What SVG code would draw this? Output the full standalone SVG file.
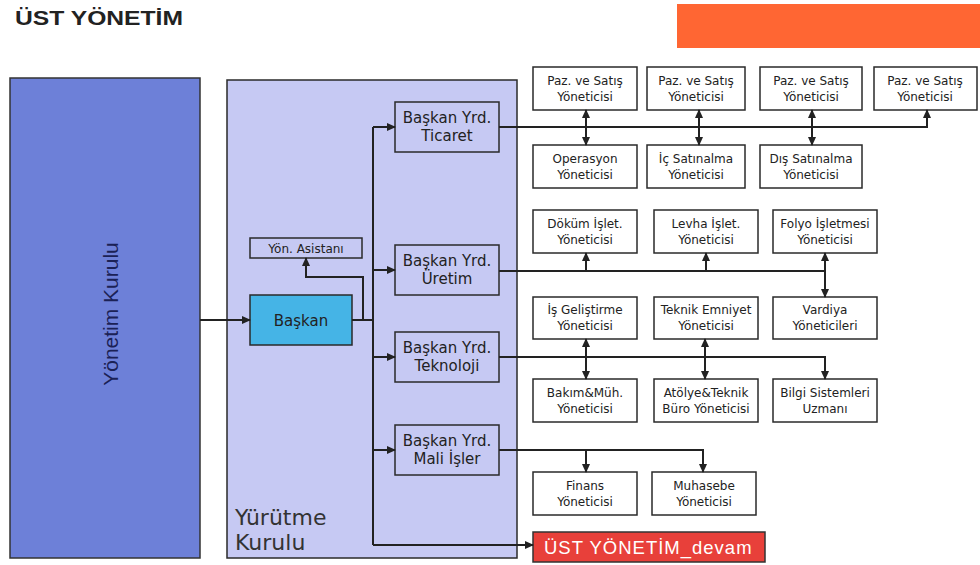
<svg xmlns="http://www.w3.org/2000/svg" width="980" height="565" viewBox="0 0 980 565">
<style>
.bx{fill:#ffffff;stroke:#2a2a2a;stroke-width:1.5}
.lv{fill:#c6c9f3;stroke:#2a2a2a;stroke-width:1.5}
.t{font-family:"DejaVu Sans",Verdana,sans-serif;font-size:12px;fill:#222;text-anchor:middle}
.tb{font-family:"DejaVu Sans",Verdana,sans-serif;font-size:15px;fill:#222;text-anchor:middle}
.c{fill:none;stroke:#222;stroke-width:2}
.a{marker-end:url(#ah)}
.d{marker-start:url(#ah);marker-end:url(#ah)}
</style>
<defs>
<marker id="ah" markerUnits="userSpaceOnUse" markerWidth="9" markerHeight="8" refX="8" refY="4" orient="auto-start-reverse">
<path d="M0,0 L9,4 L0,8 z" fill="#222"/>
</marker>
</defs>
<rect width="980" height="565" fill="#ffffff"/>
<text x="15" y="25" font-family="'Liberation Sans',Arial,sans-serif" font-size="21" font-weight="bold" fill="#222" textLength="168" lengthAdjust="spacingAndGlyphs">ÜST YÖNETİM</text>
<rect x="677" y="4" width="303" height="44" fill="#ff6633"/>

<g id="yonetim-kurulu">
<rect x="10" y="78" width="190" height="480" fill="#6d80d8" stroke="#333" stroke-width="1.5"/>
<text transform="translate(118,314) rotate(-90)" font-family="'Liberation Sans',Arial,sans-serif" font-size="21" fill="#1b2155" text-anchor="middle">Yönetim Kurulu</text>
</g>
<g id="yurutme-kurulu">
<rect x="227" y="80" width="290" height="478" class="lv"/>
<text x="235" y="525" font-family="'DejaVu Sans',Verdana,sans-serif" font-size="22" fill="#333">Yürütme</text>
<text x="235" y="550" font-family="'DejaVu Sans',Verdana,sans-serif" font-size="22" fill="#333">Kurulu</text>
</g>
<g id="baskan">
<rect x="250" y="295" width="102" height="50" fill="#45b4e6" stroke="#2a2a2a" stroke-width="1.5"/>
<text x="301" y="326" class="tb">Başkan</text>
</g>
<g id="yon-asistani">
<rect x="250" y="238" width="112" height="20" class="lv"/>
<text x="306" y="253" class="t" font-size="13">Yön. Asistanı</text>
</g>
<g id="by-ticaret">
<rect x="395" y="102" width="104" height="50" class="lv"/>
<text x="447" y="123" class="tb">Başkan Yrd.</text>
<text x="447" y="141" class="tb">Ticaret</text>
</g>
<g id="by-uretim">
<rect x="395" y="245" width="104" height="50" class="lv"/>
<text x="447" y="266" class="tb">Başkan Yrd.</text>
<text x="447" y="284" class="tb">Üretim</text>
</g>
<g id="by-teknoloji">
<rect x="395" y="332" width="104" height="50" class="lv"/>
<text x="447" y="353" class="tb">Başkan Yrd.</text>
<text x="447" y="371" class="tb">Teknoloji</text>
</g>
<g id="by-mali">
<rect x="395" y="425" width="104" height="50" class="lv"/>
<text x="447" y="446" class="tb">Başkan Yrd.</text>
<text x="447" y="464" class="tb">Mali İşler</text>
</g>

<g id="paz1"><rect x="533" y="67" width="104" height="43" class="bx"/><text x="585" y="85" class="t">Paz. ve Satış</text><text x="585" y="101" class="t">Yöneticisi</text></g>
<g id="paz2"><rect x="647" y="67" width="98" height="43" class="bx"/><text x="696" y="85" class="t">Paz. ve Satış</text><text x="696" y="101" class="t">Yöneticisi</text></g>
<g id="paz3"><rect x="760" y="67" width="102" height="43" class="bx"/><text x="811" y="85" class="t">Paz. ve Satış</text><text x="811" y="101" class="t">Yöneticisi</text></g>
<g id="paz4"><rect x="874" y="67" width="103" height="43" class="bx"/><text x="925" y="85" class="t">Paz. ve Satış</text><text x="925" y="101" class="t">Yöneticisi</text></g>

<g id="operasyon"><rect x="533" y="145" width="104" height="43" class="bx"/><text x="585" y="163" class="t">Operasyon</text><text x="585" y="179" class="t">Yöneticisi</text></g>
<g id="ic-satinalma"><rect x="647" y="145" width="98" height="43" class="bx"/><text x="696" y="163" class="t">İç Satınalma</text><text x="696" y="179" class="t">Yöneticisi</text></g>
<g id="dis-satinalma"><rect x="760" y="145" width="102" height="43" class="bx"/><text x="811" y="163" class="t">Dış Satınalma</text><text x="811" y="179" class="t">Yöneticisi</text></g>

<g id="dokum"><rect x="533" y="210" width="104" height="43" class="bx"/><text x="585" y="228" class="t">Döküm İşlet.</text><text x="585" y="244" class="t">Yöneticisi</text></g>
<g id="levha"><rect x="654" y="210" width="104" height="43" class="bx"/><text x="706" y="228" class="t">Levha İşlet.</text><text x="706" y="244" class="t">Yöneticisi</text></g>
<g id="folyo"><rect x="773" y="210" width="104" height="43" class="bx"/><text x="825" y="228" class="t">Folyo İşletmesi</text><text x="825" y="244" class="t">Yöneticisi</text></g>

<g id="is-gelistirme"><rect x="533" y="297" width="104" height="42" class="bx"/><text x="585" y="314" class="t">İş Geliştirme</text><text x="585" y="330" class="t">Yöneticisi</text></g>
<g id="teknik-emniyet"><rect x="654" y="297" width="104" height="42" class="bx"/><text x="706" y="314" class="t">Teknik Emniyet</text><text x="706" y="330" class="t">Yöneticisi</text></g>
<g id="vardiya"><rect x="773" y="297" width="104" height="42" class="bx"/><text x="825" y="314" class="t">Vardiya</text><text x="825" y="330" class="t">Yöneticileri</text></g>

<g id="bakim"><rect x="533" y="379" width="104" height="43" class="bx"/><text x="585" y="397" class="t">Bakım&amp;Müh.</text><text x="585" y="413" class="t">Yöneticisi</text></g>
<g id="atolye"><rect x="654" y="379" width="104" height="43" class="bx"/><text x="706" y="397" class="t">Atölye&amp;Teknik</text><text x="706" y="413" class="t">Büro Yöneticisi</text></g>
<g id="bilgi"><rect x="773" y="379" width="104" height="43" class="bx"/><text x="825" y="397" class="t">Bilgi Sistemleri</text><text x="825" y="413" class="t">Uzmanı</text></g>

<g id="finans"><rect x="533" y="472" width="104" height="43" class="bx"/><text x="585" y="490" class="t">Finans</text><text x="585" y="506" class="t">Yöneticisi</text></g>
<g id="muhasebe"><rect x="652" y="472" width="104" height="43" class="bx"/><text x="704" y="490" class="t">Muhasebe</text><text x="704" y="506" class="t">Yöneticisi</text></g>

<g id="ust-yonetim-devam">
<rect x="533" y="532" width="232" height="30" fill="#e8403a" stroke="#333" stroke-width="1.5"/>
<text x="544" y="554" font-family="'Liberation Sans',Arial,sans-serif" font-size="18.5" fill="#ffffff" letter-spacing="1">ÜST YÖNETİM_devam</text>
</g>

<g id="connectors">
<path class="c a" d="M200,320 H250"/>
<path class="c" d="M352,320 H373"/>
<path class="c" d="M373,127 V545"/>
<path class="c a" d="M363,320 V277 H306 V258"/>
<path class="c a" d="M373,127 H395"/>
<path class="c a" d="M373,270 H395"/>
<path class="c a" d="M373,357 H395"/>
<path class="c a" d="M373,450 H395"/>
<path class="c a" d="M373,545 H533"/>
<path class="c a" d="M499,127 H927 V110"/>
<path class="c d" d="M586,110 V145"/>
<path class="c d" d="M699,110 V145"/>
<path class="c d" d="M812,110 V145"/>
<path class="c" d="M499,271 H825"/>
<path class="c a" d="M586,271 V253"/>
<path class="c a" d="M706,271 V253"/>
<path class="c d" d="M825,253 V297"/>
<path class="c a" d="M499,357 H825 V379"/>
<path class="c d" d="M586,339 V379"/>
<path class="c d" d="M705,339 V379"/>
<path class="c a" d="M499,450 H703 V472"/>
<path class="c a" d="M586,450 V472"/>
</g>
</svg>
